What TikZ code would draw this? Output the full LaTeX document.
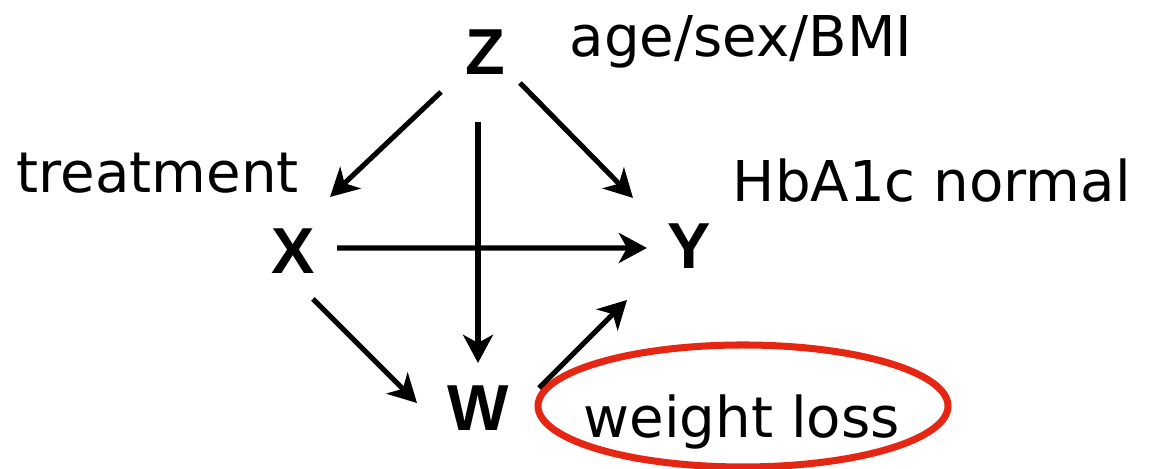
\documentclass[tikz,border=0pt]{standalone}
\usepackage{fontspec}
\setmainfont{DejaVu Sans}
\newfontfamily\varfont{Liberation Sans}
\usepackage{tikz}
\usetikzlibrary{arrows.meta,calc}
\definecolor{brushred}{RGB}{228,38,18}

\begin{document}
\begin{tikzpicture}[>={Stealth[length=8pt,width=8.5pt,inset=2.3pt]},
  var/.style={inner sep=0pt,font=\varfont\bfseries\fontsize{18.5}{20}\selectfont},
  lbl/.style={anchor=base west,inner sep=0pt,font=\fontsize{16}{19}\selectfont},
  arr/.style={->,line width=1.45pt}]
  \useasboundingbox (0,0) rectangle (11.49,4.69);
  \node[var] (Z) at (4.85,4.17) {Z};
  \node[var] (X) at (2.935,2.175) {X};
  \node[var] (Y) at (6.89,2.23) {Y};
  \node[var] (W) at (4.78,0.61) {W};
  \node[lbl] (zlab) at (5.69,4.12) {age/sex/BMI};
  \node[lbl] (xlab) at (0.16,2.76) {treatment};
  \node[lbl] (ylab) at (7.32,2.67) {HbA1c normal};
  \node[lbl] (wlab) at (5.83,0.31) {weight loss};
  \draw[brushred,line width=2pt] (7.43,0.63) ellipse (2.05 and 0.61);
  \draw[arr] ($(Z)+(-0.44,-0.40)$) -- ($(X)+(0.365,0.545)$);
  \draw[arr] ($(Z)+(0.35,-0.31)$) -- ($(Y)+(-0.56,0.48)$);
  \draw[arr] ($(Z)+(-0.07,-0.70)$) -- ($(W)+(0,0.45)$);
  \draw[arr] ($(X)+(0.435,0.035)$) -- ($(Y)+(-0.42,-0.02)$);
  \draw[arr] ($(X)+(0.195,-0.475)$) -- ($(W)+(-0.61,0.05)$);
  \draw[arr] ($(W)+(0.61,0.20)$) -- ($(Y)+(-0.62,-0.54)$);
\end{tikzpicture}
\end{document}
